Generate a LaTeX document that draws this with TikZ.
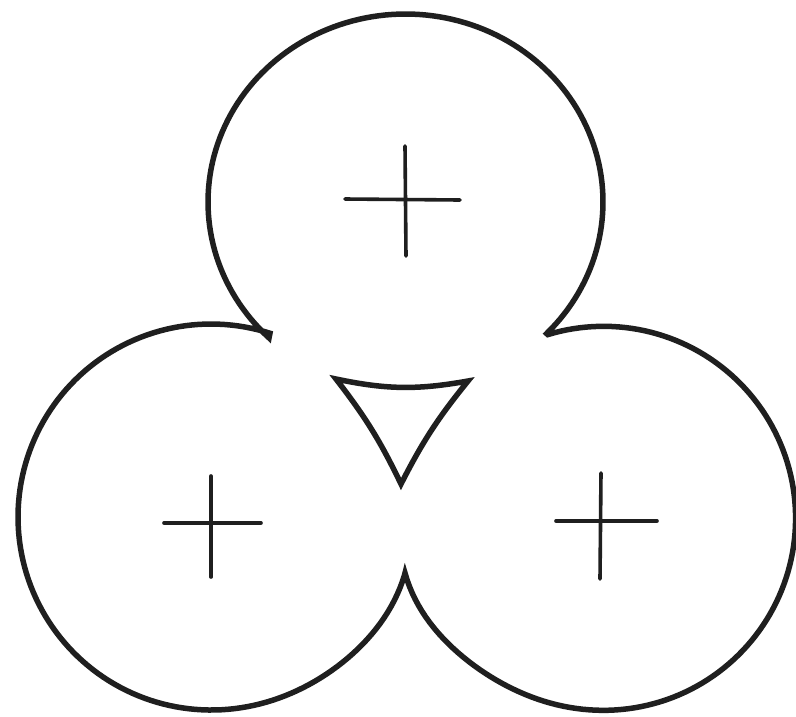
\documentclass[tikz,border=0pt]{standalone}
\begin{document}
\begin{tikzpicture}[x=1pt,y=-1pt,
  outline/.style={draw=black!88, line width=5.5pt, line join=miter},
  crossline/.style={draw=black!88, line width=3.6pt, line cap=round}]
\useasboundingbox[fill=white] (0,0) rectangle (796,716);
% outer boundary: left lobe, top lobe, right lobe
\draw[outline]
  plot[domain=16.6:287.8, samples=140, variable=\t]
    ({211+(193+9*exp(-((\t-16.6)/30)^2))*cos(\t)},
     {517+(193+9*exp(-((\t-16.6)/30)^2))*sin(\t)})
  -- plot[domain=133.7:404.4, samples=140, variable=\t]
    ({405.5+197.5*cos(\t)}, {202+188*sin(\t)})
  -- plot[domain=253.1:524.6, samples=140, variable=\t]
    ({603.6+(192+14*exp(-((524.6-\t)/30)^2))*cos(\t)},
     {518.3+(192+14*exp(-((524.6-\t)/30)^2))*sin(\t)})
  -- cycle;
% inner curved triangle
\coordinate (h1) at (336,379);
\coordinate (h2) at (468,381);
\coordinate (h3) at (401,484);
\draw[outline] (h1) to[bend right=11] (h2) to[bend right=6] (h3)
  to[bend right=6] (h1) -- cycle;
% centre crosses
\draw[crossline] (345,199) -- (460,200);
\draw[crossline] (405,146) -- (406,256);
\draw[crossline] (164,523) -- (261,523);
\draw[crossline] (211,476) -- (211,577);
\draw[crossline] (556,521) -- (657,521);
\draw[crossline] (601,473) -- (600,579);
\end{tikzpicture}
\end{document}
